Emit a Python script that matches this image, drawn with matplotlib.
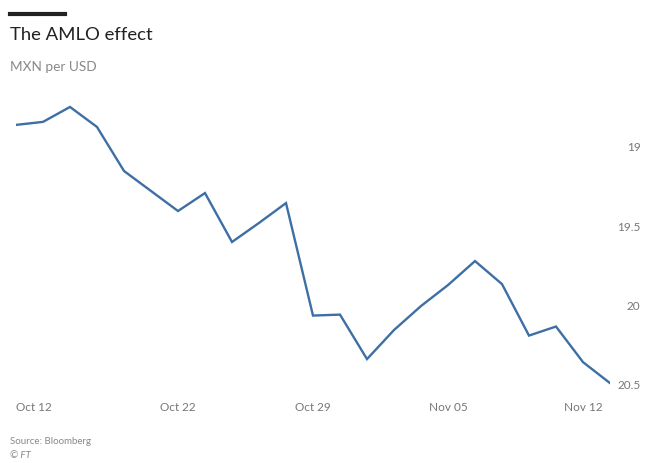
import matplotlib.pyplot as plt
import pandas as pd

plt.rcParams['font.family'] = ['Lato', 'DejaVu Sans']

# USD/MXN, business days Oct 12 - Nov 13 2018
dates = pd.bdate_range('2018-10-12', '2018-11-13')
rates = [18.863, 18.844, 18.750, 18.876, 19.153, 19.279, 19.405, 19.292,
         19.600, 19.480, 19.355, 20.063, 20.057, 20.337, 20.154, 20.003,
         19.871, 19.720, 19.865, 20.189, 20.132, 20.356, 20.488]
y_ticks = [19, 19.5, 20, 20.5]
y_labels = ['19', '19.5', '20', '20.5']
x_label_dates = ['2018-10-12', '2018-10-22', '2018-10-29', '2018-11-05', '2018-11-12']
x_labels = ['Oct 12', 'Oct 22', 'Oct 29', 'Nov 05', 'Nov 12']

fig = plt.figure(figsize=(6.45, 4.63), dpi=100)
ax = fig.add_axes([16 / 645, 78 / 463, 594 / 645, 286 / 463])

idx = list(range(len(dates)))
ax.plot(idx, rates, color='#3d6fa5', lw=1.7, solid_joinstyle='miter')

ax.set_xlim(0, len(dates) - 1)
ax.set_ylim(20.5, 18.7)

pos = [list(dates.strftime('%Y-%m-%d')).index(d) for d in x_label_dates]
ax.set_xticks(pos)
ax.set_xticklabels(x_labels, color='#777777', fontsize=8.5)
ax.get_xticklabels()[0].set_ha('left')
ax.tick_params(axis='x', length=0, pad=12)

ax.yaxis.tick_right()
ax.set_yticks(y_ticks)
ax.set_yticklabels(y_labels, color='#777777', fontsize=8.5, ha='right')
ax.tick_params(axis='y', length=0, pad=22)

for s in ax.spines.values():
    s.set_visible(False)

# header
fig.add_artist(plt.Line2D([10 / 645, 65 / 645], [449 / 463, 449 / 463],
                          color='#222222', lw=3))
fig.text(10 / 645, 428 / 463, 'The AMLO effect', fontsize=13.3, color='#222222',
         va='center')
fig.text(10 / 645, 396 / 463, 'MXN per USD', fontsize=9.8, color='#888888',
         va='center')
fig.text(10 / 645, 22 / 463, 'Source: Bloomberg', fontsize=7, color='#888888',
         va='center')
fig.text(10 / 645, 8 / 463, '© FT', fontsize=7, color='#888888',
         va='center', style='italic')

fig.savefig('out.png', dpi=100)
